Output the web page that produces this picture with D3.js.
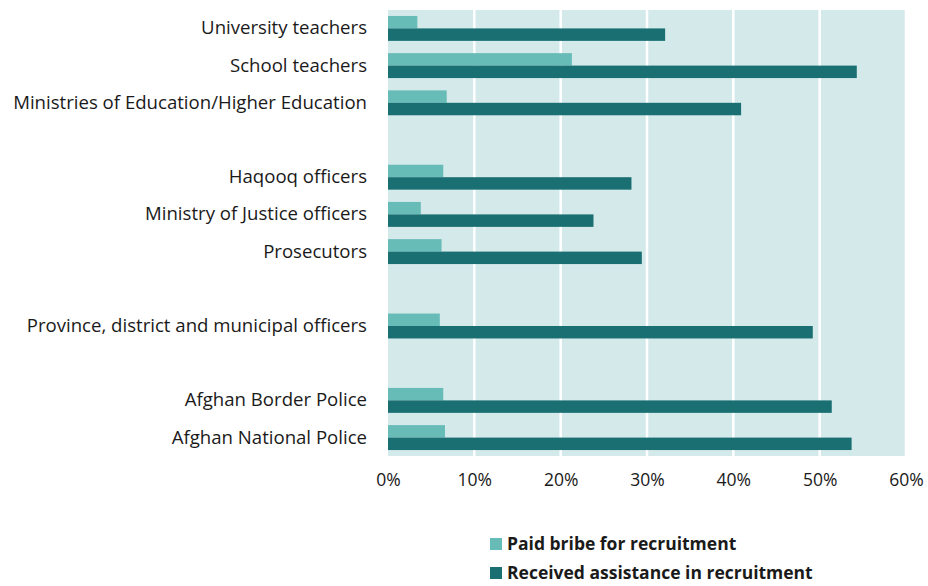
<!DOCTYPE html>
<html>
<head>
<meta charset="utf-8">
<script src="https://cdn.jsdelivr.net/npm/d3@7"></script>
<style>
  body { margin: 0; background: #fff; }
  svg { display: block; }
  text { font-family: "Open Sans", Lato, sans-serif; fill: #1a1a1a; }
</style>
</head>
<body>
<svg id="chart" width="928" height="586"></svg>
<script>
// Sectors, each drawn as a block of rows separated by an empty row
const sectorGroups = [
  ["University teachers", "School teachers", "Ministries of Education/Higher Education"],
  ["Haqooq officers", "Ministry of Justice officers", "Prosecutors"],
  ["Province, district and municipal officers"],
  ["Afghan Border Police", "Afghan National Police"]
];
const categories = sectorGroups.flat();

// Share of respondents (%) in the same order as categories
const paidBribe = [3.4, 21.3, 6.8, 6.4, 3.8, 6.2, 6.0, 6.4, 6.6];
const receivedAssistance = [32.1, 54.3, 40.9, 28.2, 23.8, 29.4, 49.2, 51.4, 53.7];

const seriesNames = ["Paid bribe for recruitment", "Received assistance in recruitment"];
const seriesColors = ["#67bcb8", "#196f72"];
const tickValues = [0, 10, 20, 30, 40, 50, 60];

const svg = d3.select("#chart");
const margin = { left: 388, right: 22, top: 10, bottom: 130 };
const W = 928, H = 586;
const plotW = W - margin.left - margin.right;
const plotH = H - margin.top - margin.bottom;

// Row domain with spacer rows between sectors
const rows = [];
sectorGroups.forEach((g, i) => {
  if (i > 0) rows.push("__gap" + i);
  g.forEach(c => rows.push(c));
});

const x = d3.scaleLinear().domain([0, 60]).range([0, plotW]);
const y = d3.scaleBand().domain(rows).range([0, plotH]).paddingInner(0.33).paddingOuter(0.16);
const ySub = d3.scaleBand().domain([0, 1]).range([0, y.bandwidth()]);

const g = svg.append("g").attr("transform", `translate(${margin.left},${margin.top})`);

// Plot background
g.append("rect")
  .attr("width", plotW).attr("height", plotH)
  .attr("fill", "#d4e9ea");

// Vertical gridlines
g.selectAll("line.grid")
  .data(tickValues.filter(v => v > 0))
  .join("line")
  .attr("class", "grid")
  .attr("x1", d => x(d)).attr("x2", d => x(d))
  .attr("y1", 0).attr("y2", plotH)
  .attr("stroke", "#fff").attr("stroke-width", 2.5);

// Bars
const data = categories.map((c, i) => ({ c, vals: [paidBribe[i], receivedAssistance[i]] }));
const rowG = g.selectAll("g.row").data(data).join("g")
  .attr("class", "row")
  .attr("transform", d => `translate(0,${y(d.c)})`);

rowG.selectAll("rect")
  .data(d => d.vals.map((v, k) => ({ v, k })))
  .join("rect")
  .attr("x", 0)
  .attr("y", d => ySub(d.k))
  .attr("width", d => x(d.v))
  .attr("height", ySub.bandwidth())
  .attr("fill", d => seriesColors[d.k]);

// Category labels
const yAxis = g.append("g")
  .call(d3.axisLeft(y).tickValues(categories).tickSize(0).tickPadding(21));
yAxis.select(".domain").remove();
yAxis.selectAll("text")
  .attr("font-size", 18.6)
  .style("font-family", "'Open Sans', Lato, sans-serif")
  .attr("fill", "#1a1a1a");

// Percentage axis
const xAxis = g.append("g")
  .attr("transform", `translate(0,${plotH})`)
  .call(d3.axisBottom(x).tickValues(tickValues).tickFormat(d => d + "%").tickSize(0).tickPadding(18));
xAxis.select(".domain").remove();
xAxis.selectAll("text")
  .attr("font-size", 17.5)
  .style("font-family", "'Open Sans', Lato, sans-serif")
  .attr("fill", "#1a1a1a");

// Legend
const legend = svg.append("g").attr("transform", "translate(490,538)");
const li = legend.selectAll("g").data(seriesNames).join("g")
  .attr("transform", (d, i) => `translate(0,${i * 29})`);
li.append("rect").attr("width", 12).attr("height", 12).attr("fill", (d, i) => seriesColors[i]);
li.append("text")
  .attr("x", 17).attr("y", 6).attr("dy", "0.36em")
  .attr("font-size", 17.5).attr("font-weight", "bold")
  .text(d => d);
</script>
</body>
</html>
